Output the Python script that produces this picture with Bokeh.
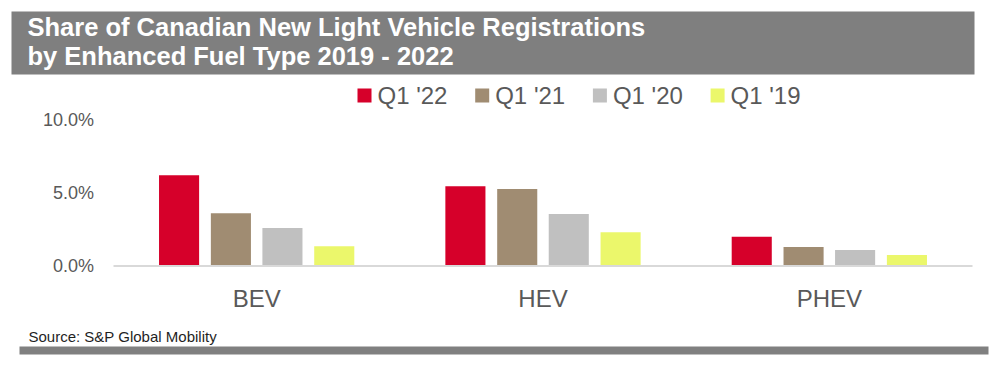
from bokeh.plotting import figure
from bokeh.models import Range1d, ColumnDataSource
from bokeh.transform import dodge
from bokeh.core.properties import value
from bokeh.embed import file_html
from bokeh.resources import INLINE

# ---------------- data ----------------
title_lines = ["Share of Canadian New Light Vehicle Registrations",
               "by Enhanced Fuel Type 2019 - 2022"]
source_note = "Source: S&P Global Mobility"
fuel_types = ["BEV", "HEV", "PHEV"]
series = ["Q1 '22", "Q1 '21", "Q1 '20", "Q1 '19"]
q1_22 = [6.2, 5.45, 2.0]
q1_21 = [3.6, 5.25, 1.3]
q1_20 = [2.6, 3.55, 1.1]
q1_19 = [1.35, 2.3, 0.75]
y_ticks = [0, 5, 10]
y_tick_labels = ["0.0%", "5.0%", "10.0%"]
colors = ["#d6002a", "#a08c72", "#c0c0c0", "#ebf76b"]

FONT = value("Liberation Sans")
W, H = 1004, 371

# ---------------- layout geometry (canvas pixels) ----------------
PLOT_L, PLOT_R = 113, 972          # horizontal extent of the category band
ZERO_Y, PX_PER_UNIT = 265.5, 14.65  # baseline position and vertical scale

n = len(fuel_types)
px_per_cat = (PLOT_R - PLOT_L) / n
cat_start = -(PLOT_L + px_per_cat / 2) / px_per_cat
cat_end = cat_start + W / px_per_cat
val_top = ZERO_Y / PX_PER_UNIT
val_bot = -(H - ZERO_Y) / PX_PER_UNIT

p = figure(width=W, height=H, x_range=Range1d(0, W), y_range=Range1d(H, 0),
           x_axis_location=None, y_axis_location=None, toolbar_location=None, tools="",
           min_border=0, output_backend="svg", title=None)
p.extra_x_ranges = {"cat": Range1d(cat_start, cat_end)}
p.extra_y_ranges = {"val": Range1d(val_bot, val_top)}
p.grid.visible = False
p.outline_line_color = None
p.background_fill_color = "white"
p.border_fill_color = "white"

# ---------------- header: title box + legend ----------------
p.quad(left=11, right=974, top=11, bottom=74, fill_color="#7f7f7f", line_color=None)
p.text(x=[27, 27], y=[26.5, 55], text=title_lines, text_font=FONT, text_font_style="bold",
       text_font_size="25.5px", text_color="white", text_baseline="middle", text_align="left")

leg_x0, leg_step, sq = 357, 117.7, 14
lx = [leg_x0 + i * leg_step for i in range(len(series))]
p.rect(x=[l + sq / 2 for l in lx], y=[95] * len(series), width=sq, height=sq,
       fill_color=colors, line_color=None)
p.text(x=[l + 20 for l in lx], y=[94.5] * len(series), text=series, text_font=FONT,
       text_font_size="24px", text_color="#595959", text_baseline="middle", text_align="left")

# ---------------- chart ----------------
src = ColumnDataSource(dict(pos=list(range(n)), fuel=fuel_types,
                            q1_22=q1_22, q1_21=q1_21, q1_20=q1_20, q1_19=q1_19))
keys = ["q1_22", "q1_21", "q1_20", "q1_19"]
offsets = [-0.271, -0.090, 0.090, 0.271]
for key, off, col in zip(keys, offsets, colors):
    p.vbar(x=dodge("pos", off), top=key, width=0.14, source=src,
           fill_color=col, line_color=None, x_range_name="cat", y_range_name="val")

# baseline (category axis line)
p.segment(x0=[-0.5], x1=[n - 0.5], y0=[0], y1=[0], line_color="#d9d9d9", line_width=2,
          x_range_name="cat", y_range_name="val")

# value tick labels
p.text(x=[93.5] * len(y_ticks), y=y_ticks, text=y_tick_labels, text_font=FONT,
       text_font_size="18px", text_color="#595959", text_align="right", text_baseline="middle",
       y_range_name="val")

# category labels
p.text(x="pos", y=-(298 - ZERO_Y) / PX_PER_UNIT, text="fuel", source=src, text_font=FONT,
       text_font_size="24px", text_color="#595959", text_align="center", text_baseline="middle",
       x_range_name="cat", y_range_name="val")

# ---------------- footer ----------------
p.text(x=[28], y=[335.5], text=[source_note], text_font=FONT, text_font_size="15px",
       text_color="#1f1f1f", text_baseline="middle", text_align="left")
p.quad(left=19, right=988, top=346, bottom=354, fill_color="#808080", line_color=None)

open("out.html", "w").write(file_html(p, INLINE))
